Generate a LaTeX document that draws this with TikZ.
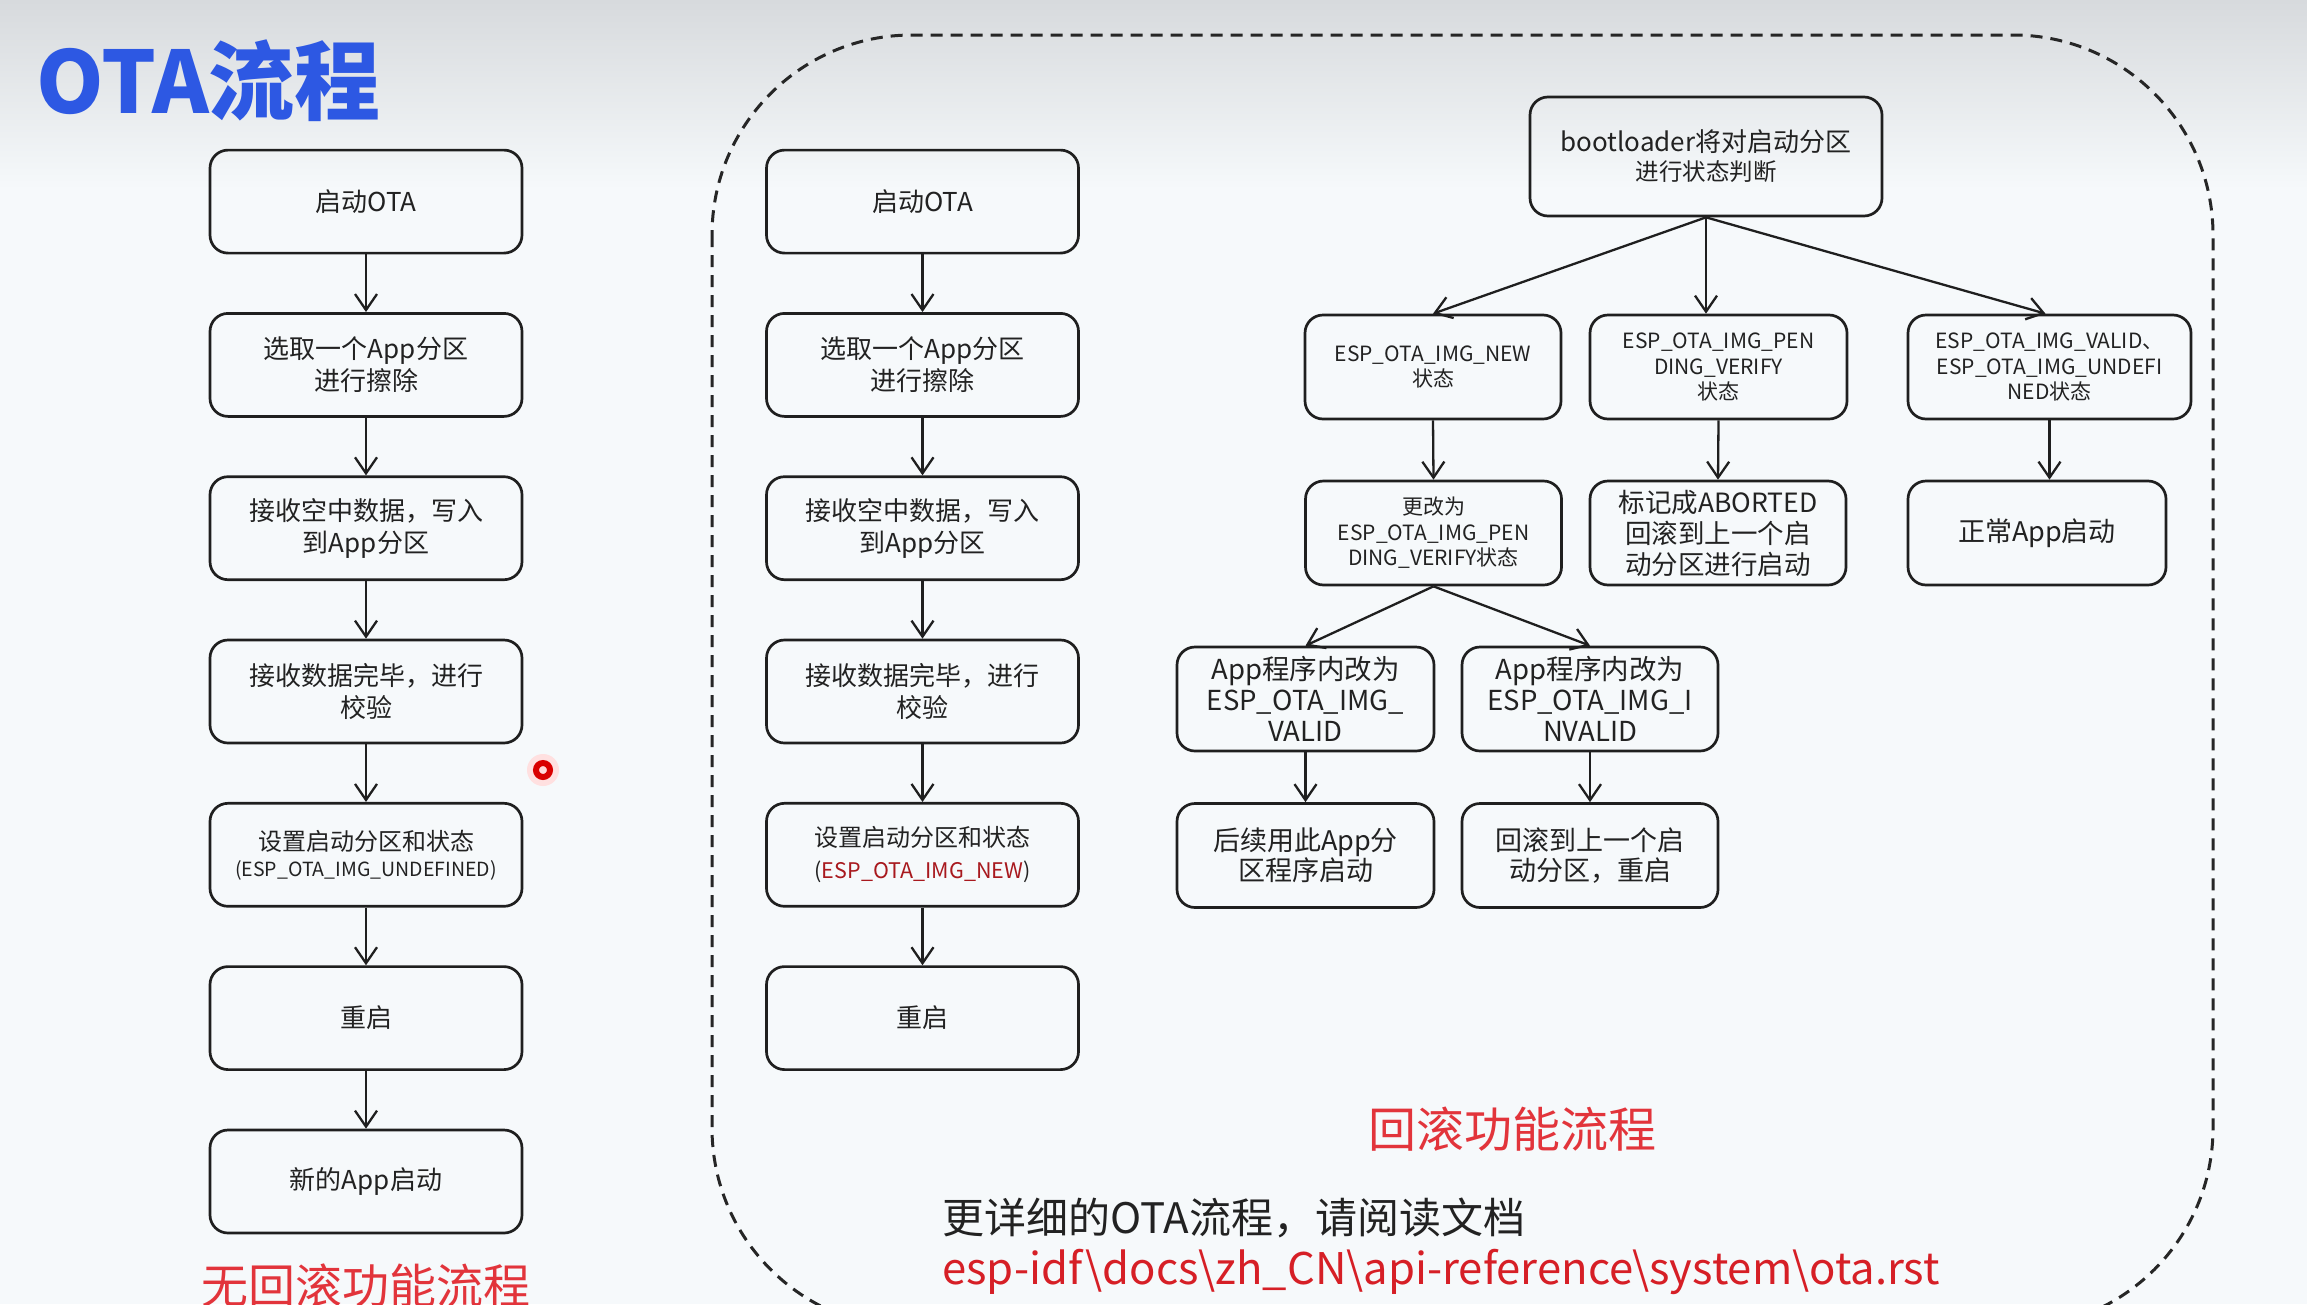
\documentclass[tikz,border=0pt]{standalone}
\usepackage{fontspec}
\setmainfont{Noto Sans CJK SC}
\usetikzlibrary{arrows.meta}
\definecolor{txt}{HTML}{222222}
\definecolor{titleblue}{HTML}{2D58E3}
\definecolor{capred}{HTML}{E2343B}
\definecolor{pathred}{HTML}{D61F26}
\definecolor{darkred}{HTML}{A8191E}
\definecolor{bgtop}{HTML}{D7DADD}
\definecolor{bgbot}{HTML}{F6F9FB}
\begin{document}
\begin{tikzpicture}[x=1pt,y=-1pt,
  box/.style={draw=black!88, line width=2.7pt, rounded corners=18pt, align=center, inner sep=0pt, text=txt},
  lbox/.style={box, minimum width=312pt, minimum height=103pt, font=\fontsize{26}{32}\selectfont},
  sbox/.style={box, minimum width=256pt, minimum height=104pt, font=\fontsize{21}{25.5}\selectfont},
  mbox/.style={box, minimum width=256pt, minimum height=104pt, font=\fontsize{26.5}{31}\selectfont},
  arr/.style={draw=black!88, line width=2.3pt, -{Straight Barb[length=16pt,width=22pt]}}
]
\useasboundingbox (0,0) rectangle (2307,1304);
\clip (0,0) rectangle (2307,1304);
\fill[bgbot] (0,0) rectangle (2307,1304);
\shade[top color=bgtop, bottom color=bgbot] (0,0) rectangle (2307,190);

% title
\node[anchor=base west, inner sep=0pt, font=\fontsize{86}{86}\selectfont\bfseries, text=titleblue] (title) at (36,113) {OTA流程};

% dashed frame
\draw[black!85, line width=3pt, dash pattern=on 12pt off 8pt, rounded corners=200pt] (712,35) rectangle (2213,1328);

% left column
\node[lbox] (l1) at (366,201.6) {启动OTA};
\node[lbox] (l2) at (366,364.9) {选取一个App分区\\进行擦除};
\node[lbox] (l3) at (366,528.2) {接收空中数据，写入\\到App分区};
\node[lbox] (l4) at (366,691.5) {接收数据完毕，进行\\校验};
\node[lbox, font=\fontsize{24}{26}\selectfont] (l5) at (366,854.8) {设置启动分区和状态\\{\fontsize{19.5}{24}\selectfont (ESP\_OTA\_IMG\_UNDEFINED)}};
\node[lbox] (l6) at (366,1018.1) {重启};
\node[lbox] (l7) at (366,1181.5) {新的App启动};
\foreach \a/\b in {l1/l2,l2/l3,l3/l4,l4/l5,l5/l6,l6/l7}
  \draw[arr] (\a.south) -- (\b.north);

% middle column
\node[lbox] (m1) at (922.5,201.6) {启动OTA};
\node[lbox] (m2) at (922.5,364.9) {选取一个App分区\\进行擦除};
\node[lbox] (m3) at (922.5,528.2) {接收空中数据，写入\\到App分区};
\node[lbox] (m4) at (922.5,691.5) {接收数据完毕，进行\\校验};
\node[lbox, font=\fontsize{24}{32}\selectfont] (m5) at (922.5,854.8) {设置启动分区和状态\\{\fontsize{21.5}{32}\selectfont (\textcolor{darkred}{ESP\_OTA\_IMG\_NEW})}};
\node[lbox] (m6) at (922.5,1018.1) {重启};
\foreach \a/\b in {m1/m2,m2/m3,m3/m4,m4/m5,m5/m6}
  \draw[arr] (\a.south) -- (\b.north);

% right tree
\node[box, minimum width=352pt, minimum height=119pt, font=\fontsize{26}{29}\selectfont] (boot) at (1706,156.5) {bootloader将对启动分区\\{\fontsize{23.5}{29}\selectfont 进行状态判断}};
\node[sbox] (new) at (1433,367) {ESP\_OTA\_IMG\_NEW\\状态};
\node[sbox, minimum width=257pt] (pend) at (1718.5,367) {ESP\_OTA\_IMG\_PEN\\DING\_VERIFY\\状态};
\node[sbox, minimum width=283pt] (valid) at (2049.5,367) {ESP\_OTA\_IMG\_VALID、\\ESP\_OTA\_IMG\_UNDEFI\\NED状态};
\node[sbox] (chg) at (1433.5,533) {更改为\\ESP\_OTA\_IMG\_PEN\\DING\_VERIFY状态};
\node[mbox] (abort) at (1718,533) {标记成ABORTED\\回滚到上一个启\\动分区进行启动};
\node[mbox, minimum width=258pt, font=\fontsize{27}{31}\selectfont] (normal) at (2037,533) {正常App启动};
\node[mbox, minimum width=257pt, font=\fontsize{27.5}{31}\selectfont] (av) at (1305.5,699) {App程序内改为\\ESP\_OTA\_IMG\_\\VALID};
\node[mbox, font=\fontsize{27.5}{31}\selectfont] (ai) at (1590,699) {App程序内改为\\ESP\_OTA\_IMG\_I\\NVALID};
\node[mbox, minimum width=257pt, font=\fontsize{27}{30}\selectfont] (follow) at (1305.5,855.5) {后续用此App分\\区程序启动};
\node[mbox, font=\fontsize{27}{30}\selectfont] (back) at (1590,855.5) {回滚到上一个启\\动分区，重启};

\draw[arr] (boot.south) -- (new.north);
\draw[arr] (boot.south) -- (boot.south |- pend.north);
\draw[arr] (boot.south) -- ([xshift=-4pt]valid.north);
\draw[arr] (new.south) -- (chg.north);
\draw[arr] (pend.south) -- (abort.north);
\draw[arr] (valid.south) -- (valid.south |- normal.north);
\draw[arr] (chg.south) -- (av.north);
\draw[arr] (chg.south) -- (ai.north);
\draw[arr] (av.south) -- (follow.north);
\draw[arr] (ai.south) -- (back.north);

% captions
\node[inner sep=0pt, font=\fontsize{48}{48}\selectfont, text=capred] (cap2) at (1512,1129) {回滚功能流程};
\node[anchor=base, inner sep=0pt, font=\fontsize{47}{47}\selectfont, text=capred] (cap1) at (366,1303) {无回滚功能流程};
\node[anchor=base west, inner sep=0pt, font=\fontsize{42}{42}\selectfont, text=txt] (more) at (942,1233) {更详细的OTA流程，请阅读文档};
\node[anchor=base west, inner sep=0pt, font=\fontsize{43.6}{44}\selectfont, text=pathred] (path) at (942,1284) {esp-idf\textbackslash docs\textbackslash zh\_CN\textbackslash api-reference\textbackslash system\textbackslash ota.rst};

% pointer dot
\fill[red!12] (543,770) circle (16pt);
\draw[red!85!black, line width=6pt, fill=white!85!red] (543,770) circle (7pt);
\end{tikzpicture}
\end{document}
